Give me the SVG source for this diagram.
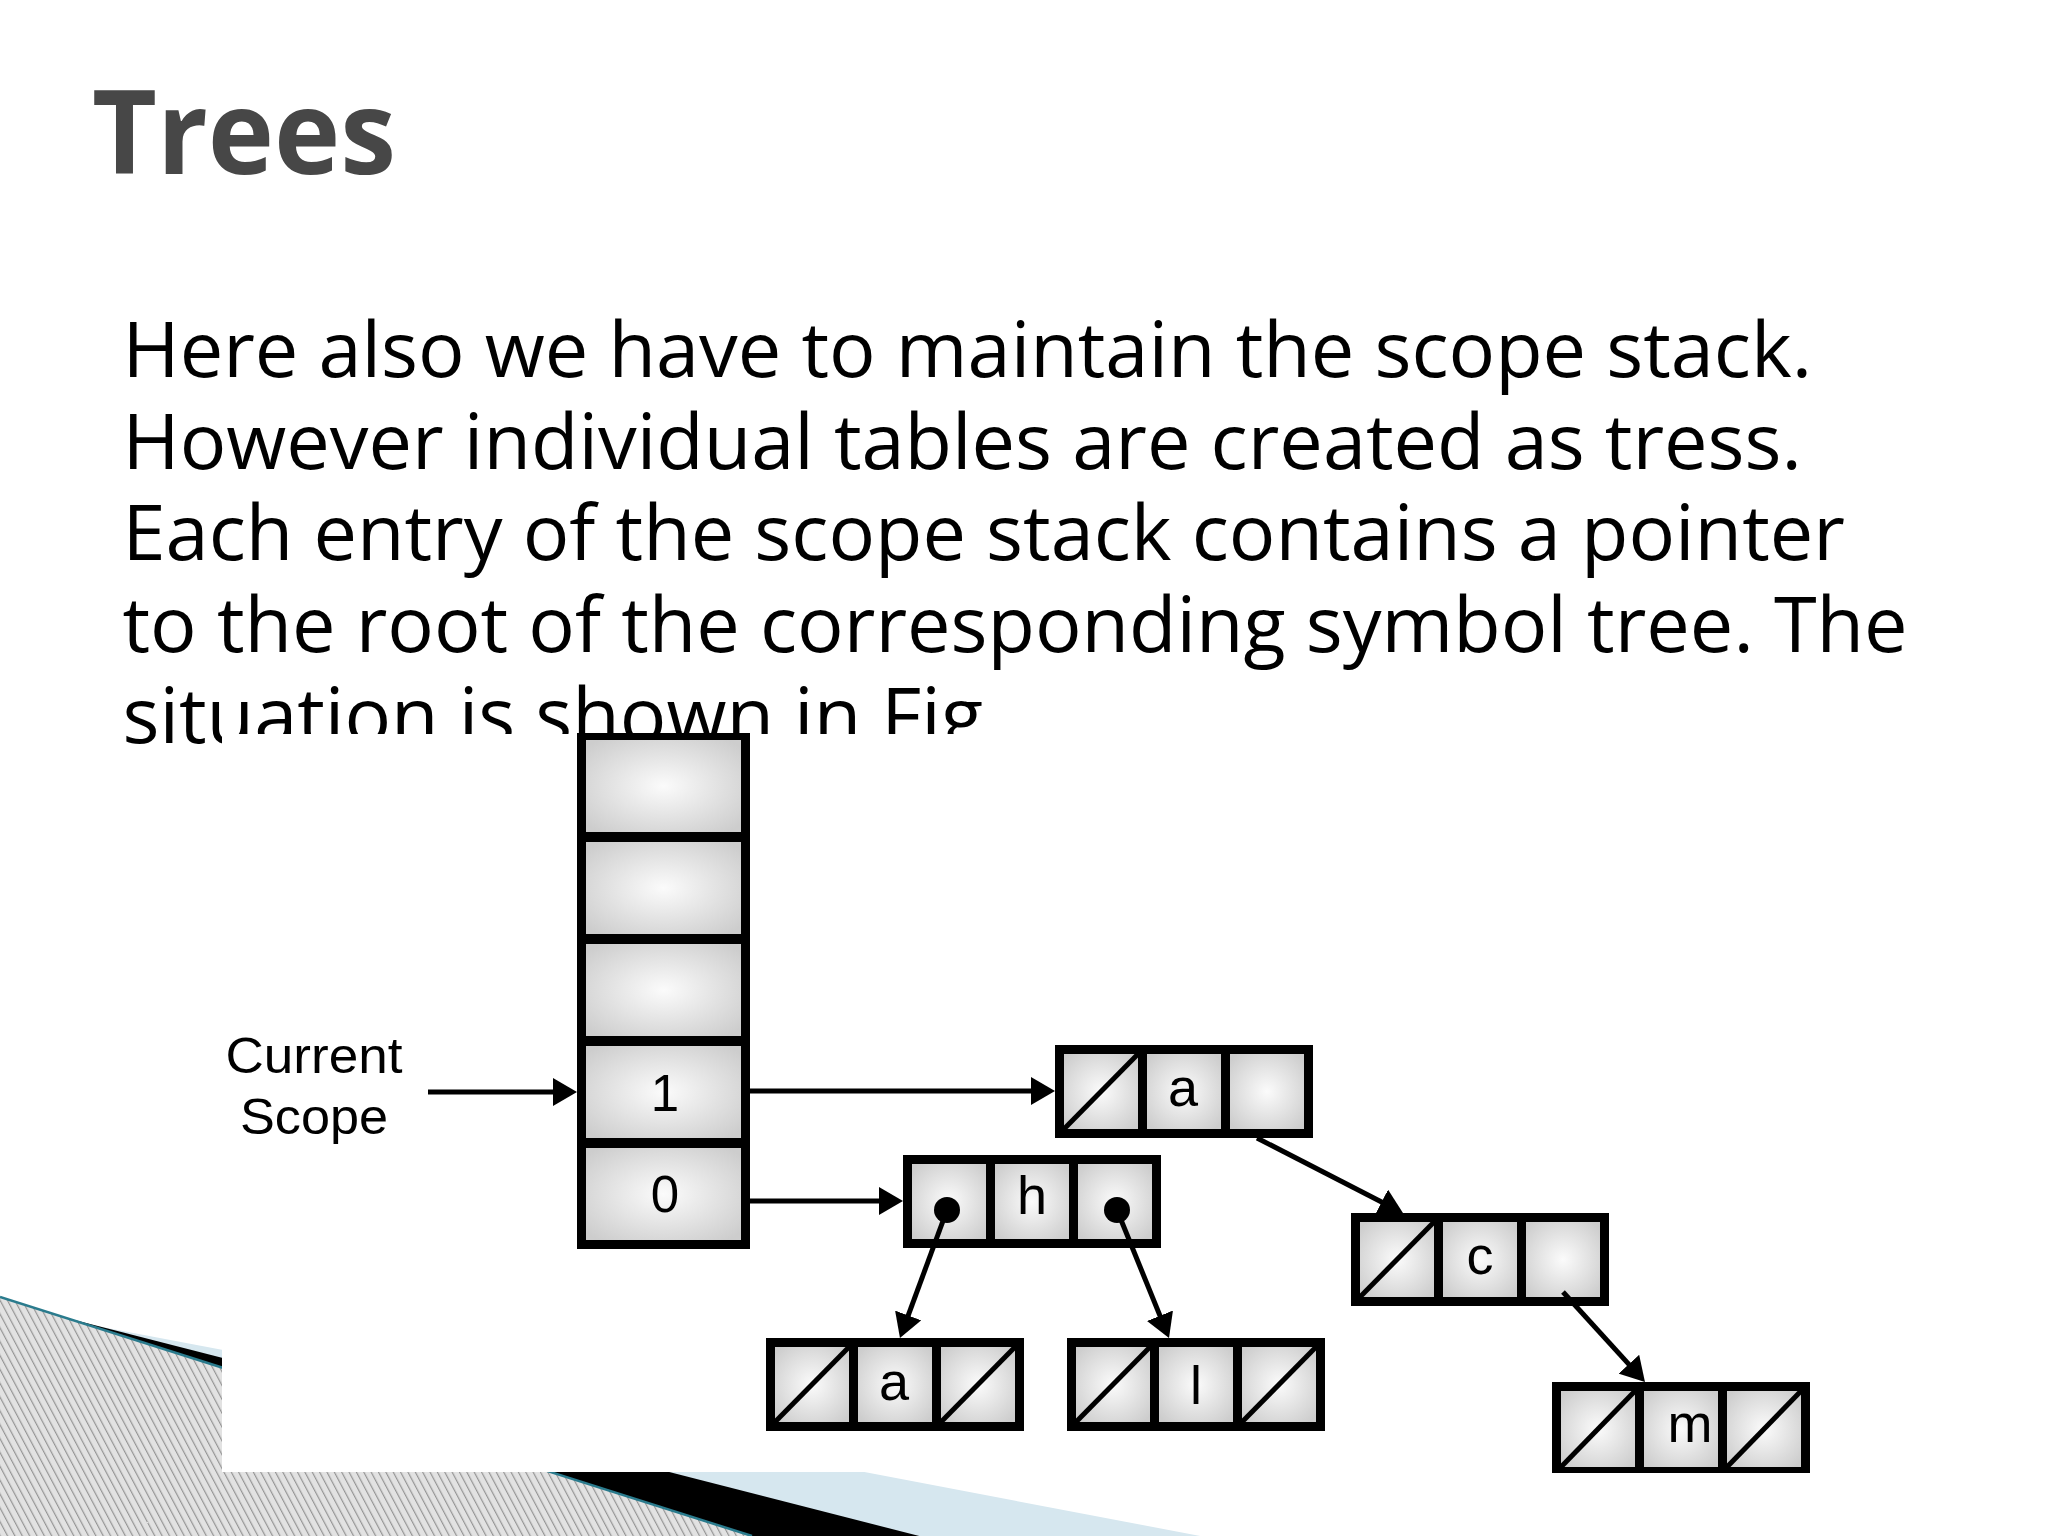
<svg xmlns="http://www.w3.org/2000/svg" width="2048" height="1536" viewBox="0 0 2048 1536">
<style>
.title{font-family:"Open Sans","Noto Sans",sans-serif;font-weight:700;font-size:116px;fill:#474747}
.body{font-family:"Open Sans","Noto Sans",sans-serif;font-size:77.5px;fill:#000}
.lbl{font-family:"Liberation Sans",Arial,sans-serif;font-size:50px;fill:#000}
.cl{font-family:"Liberation Sans",Arial,sans-serif;font-size:54px;fill:#000;text-anchor:middle}
.dg{font-family:"Liberation Sans",Arial,sans-serif;font-size:51px;fill:#000;text-anchor:middle}
.frame{fill:#000}
.cell{fill:url(#cellGrad)}
.slash{stroke:#000;stroke-width:5;stroke-linecap:butt}
.conn{stroke:#000;stroke-width:5;fill:none}
</style>
<defs>
<radialGradient id="cellGrad" cx="0.5" cy="0.5" r="0.65">
<stop offset="0" stop-color="#fbfbfb"/>
<stop offset="1" stop-color="#cdcdcd"/>
</radialGradient>
<pattern id="hatch" patternUnits="userSpaceOnUse" width="6.5" height="20" patternTransform="rotate(-28)">
<rect x="0" y="0" width="6.5" height="20" fill="#e2e2e2"/>
<rect x="0" y="0" width="1.2" height="20" fill="#959595"/>
</pattern>
<marker id="arrow" markerUnits="userSpaceOnUse" markerWidth="24" markerHeight="28" refX="12" refY="14" orient="auto">
<path d="M0,0 L24,14 L0,28 Z" fill="#000"/>
</marker>
</defs>
<rect x="0" y="0" width="2048" height="1536" fill="#fff"/>
<g id="decoration">
<polygon points="86,1324 1216,1539 0,1539 0,1320" fill="#d6e7ef"/>
<polygon points="55,1315 931,1539 0,1539" fill="#000"/>
<polygon points="0,1297 752,1536 0,1536" fill="url(#hatch)"/>
<line x1="0" y1="1297" x2="752" y2="1536" stroke="#2a7b8d" stroke-width="2.5"/>
</g>
<g id="title"><text class="title" x="92" y="174" textLength="304" lengthAdjust="spacingAndGlyphs">Trees</text></g>
<g id="body-text">
<text class="body" x="122.5" y="377">Here also we have to maintain the scope stack.</text>
<text class="body" x="122.5" y="468.5">However individual tables are created as tress.</text>
<text class="body" x="122.5" y="560">Each entry of the scope stack contains a pointer</text>
<text class="body" x="122.5" y="651.5">to the root of the corresponding symbol tree. The</text>
<text class="body" x="122.5" y="743">situation is shown in Fig</text>
</g>
<rect id="figure-bg" x="222" y="734" width="1640" height="738" fill="#fff"/>
<g id="current-scope-label">
<text class="lbl" x="314" y="1073" text-anchor="middle" textLength="177" lengthAdjust="spacingAndGlyphs">Current</text>
<text class="lbl" x="314" y="1134" text-anchor="middle" textLength="148" lengthAdjust="spacingAndGlyphs">Scope</text>
</g>
<g id="scope-stack">
<rect class="frame" x="577" y="733" width="173" height="516"/>
<rect class="cell" x="586" y="740" width="155" height="92"/>
<rect class="cell" x="586" y="842" width="155" height="92"/>
<rect class="cell" x="586" y="944" width="155" height="92"/>
<rect class="cell" x="586" y="1046" width="155" height="92"/>
<rect class="cell" x="586" y="1148" width="155" height="92"/>
<text class="dg" x="665" y="1111">1</text>
<text class="dg" x="665" y="1212">0</text>
</g>
<g id="node-a1" transform="translate(1055,1045)">
<rect class="frame" width="258" height="93"/>
<rect class="cell" x="9" y="9" width="74" height="75"/>
<rect class="cell" x="92" y="9" width="74" height="75"/>
<rect class="cell" x="175" y="9" width="74" height="75"/>
<line class="slash" x1="9" y1="84" x2="83" y2="9"/>
<text class="cl" x="128" y="61">a</text>
</g>
<g id="node-h" transform="translate(903,1155)">
<rect class="frame" width="258" height="93"/>
<rect class="cell" x="9" y="9" width="74" height="75"/>
<rect class="cell" x="92" y="9" width="74" height="75"/>
<rect class="cell" x="175" y="9" width="74" height="75"/>
<circle cx="44" cy="55" r="13" fill="#000"/>
<circle cx="214" cy="55" r="13" fill="#000"/>
<text class="cl" x="129" y="59">h</text>
</g>
<g id="node-c" transform="translate(1351,1213)">
<rect class="frame" width="258" height="93"/>
<rect class="cell" x="9" y="9" width="74" height="75"/>
<rect class="cell" x="92" y="9" width="74" height="75"/>
<rect class="cell" x="175" y="9" width="74" height="75"/>
<line class="slash" x1="9" y1="84" x2="83" y2="9"/>
<text class="cl" x="129" y="61">c</text>
</g>
<g id="node-a2" transform="translate(766,1338)">
<rect class="frame" width="258" height="93"/>
<rect class="cell" x="9" y="9" width="74" height="75"/>
<rect class="cell" x="92" y="9" width="74" height="75"/>
<rect class="cell" x="175" y="9" width="74" height="75"/>
<line class="slash" x1="9" y1="84" x2="83" y2="9"/>
<line class="slash" x1="175" y1="84" x2="249" y2="9"/>
<text class="cl" x="128" y="62">a</text>
</g>
<g id="node-l" transform="translate(1067,1338)">
<rect class="frame" width="258" height="93"/>
<rect class="cell" x="9" y="9" width="74" height="75"/>
<rect class="cell" x="92" y="9" width="74" height="75"/>
<rect class="cell" x="175" y="9" width="74" height="75"/>
<line class="slash" x1="9" y1="84" x2="83" y2="9"/>
<line class="slash" x1="175" y1="84" x2="249" y2="9"/>
<text class="cl" x="129" y="66">l</text>
</g>
<g id="node-m" transform="translate(1552,1382)">
<rect class="frame" width="258" height="91"/>
<rect class="cell" x="9" y="9" width="74" height="76"/>
<rect class="cell" x="92" y="9" width="74" height="76"/>
<rect class="cell" x="175" y="9" width="74" height="76"/>
<line class="slash" x1="9" y1="85" x2="83" y2="9"/>
<line class="slash" x1="175" y1="85" x2="249" y2="9"/>
<text class="cl" x="138" y="60">m</text>
</g>
<g id="connectors">
<line class="conn" x1="428" y1="1092" x2="565" y2="1092" marker-end="url(#arrow)"/>
<line class="conn" x1="750" y1="1091" x2="1043" y2="1091" marker-end="url(#arrow)"/>
<line class="conn" x1="750" y1="1201" x2="891" y2="1201" marker-end="url(#arrow)"/>
<line class="conn" x1="947" y1="1210" x2="904.1" y2="1326.7" marker-end="url(#arrow)"/>
<line class="conn" x1="1117" y1="1210" x2="1164.5" y2="1326.9" marker-end="url(#arrow)"/>
<line class="conn" x1="1257" y1="1138" x2="1392.3" y2="1207.5" marker-end="url(#arrow)"/>
<line class="conn" x1="1563" y1="1292" x2="1636.9" y2="1373.1" marker-end="url(#arrow)"/>
</g>
</svg>
